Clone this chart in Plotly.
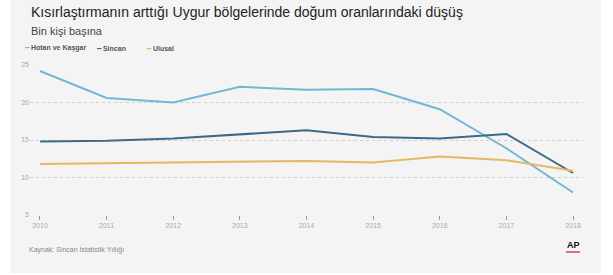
import plotly.graph_objects as go

years = [2010, 2011, 2012, 2013, 2014, 2015, 2016, 2017, 2018]
hotan = [24.2, 20.6, 20.0, 22.1, 21.7, 21.8, 19.1, 13.9, 8.0]
sincan = [14.8, 14.9, 15.2, 15.8, 16.3, 15.4, 15.2, 15.8, 10.6]
ulusal = [11.8, 11.9, 12.0, 12.0, 12.2, 12.0, 12.8, 12.3, 10.9]
series_names = ["Hotan ve Kaşgar", "Sincan", "Ulusal"]
series_colors = ["#72b7d6", "#3c6a88", "#e5b862"]
y_ticks = [5, 10, 15, 20, 25]

title = "Kısırlaştırmanın arttığı Uygur bölgelerinde doğum oranlarındaki düşüş"
subtitle = "Bin kişi başına"
source = "Kaynak: Sincan İstatistik Yıllığı"

W, H = 613, 275
L, R, T, B = 30, 30, 65, 60
pw = W - L - R
ph = H - T - B


def px(x):
    return (x - L) / pw


def py(y):
    return (H - B - y) / ph


fig = go.Figure()
for name, vals, col in zip(series_names, [hotan, sincan, ulusal], series_colors):
    fig.add_trace(go.Scatter(x=years, y=vals, name=name, mode="lines",
                             line=dict(color=col, width=2), showlegend=False,
                             hoverinfo="skip"))

fig.add_shape(type="rect", xref="paper", yref="paper",
              x0=px(11), x1=px(601), y0=py(273), y1=py(-2),
              fillcolor="#f4f4f4", line=dict(width=0), layer="below")

fig.add_annotation(text=title, xref="paper", yref="paper", x=px(29), y=py(12),
                   xanchor="left", yanchor="middle", showarrow=False,
                   font=dict(family="Liberation Sans, Arial", size=14, color="#222"))
fig.add_annotation(text=subtitle, xref="paper", yref="paper", x=px(29), y=py(31),
                   xanchor="left", yanchor="middle", showarrow=False,
                   font=dict(family="Liberation Sans, Arial", size=11, color="#444"))

leg_x = [22, 94, 144]
for name, col, lx in zip(series_names, series_colors, leg_x):
    fig.add_annotation(text=f"<span style='color:{col}'>━</span> <b>{name}</b>",
                       xref="paper", yref="paper", x=px(lx), y=py(48),
                       xanchor="left", yanchor="middle", showarrow=False,
                       font=dict(family="Liberation Sans Narrow, Arial Narrow, Arial", size=7, color="#555"))

fig.add_annotation(text=source, xref="paper", yref="paper", x=px(27), y=py(249),
                   xanchor="left", yanchor="middle", showarrow=False,
                   font=dict(family="Liberation Sans Narrow, Arial", size=7, color="#888"))
fig.add_annotation(text="<b>AP</b>", xref="paper", yref="paper", x=px(573), y=py(245),
                   xanchor="center", yanchor="middle", showarrow=False,
                   font=dict(family="Liberation Sans, Arial", size=9, color="#111"))
fig.add_shape(type="line", xref="paper", yref="paper",
              x0=px(566), x1=px(580), y0=py(252), y1=py(252),
              line=dict(color="#d9455a", width=1.5))

fig.update_xaxes(range=[2009.85, 2018.15], tickvals=years, ticktext=[str(y) for y in years],
                 showgrid=False, zeroline=False, showline=False,
                 ticks="outside", ticklen=4, tickcolor="#999", tickwidth=1,
                 tickfont=dict(family="Liberation Sans Narrow, Arial", size=7, color="#aaa"))
fig.update_yaxes(range=[5, 25], tickvals=y_ticks, showgrid=True, gridcolor="#cfcfcf",
                 griddash="dot", gridwidth=1, zeroline=False, showline=False,
                 ticks="", tickfont=dict(family="Liberation Sans Narrow, Arial", size=7, color="#aaa"))

fig.update_layout(width=W, height=H, margin=dict(l=L, r=R, t=T, b=B),
                  paper_bgcolor="white", plot_bgcolor="rgba(0,0,0,0)")

fig.write_html("out.html", config={"displayModeBar": False},
               post_script="document.body.style.margin='0';document.body.style.overflow='hidden';")
